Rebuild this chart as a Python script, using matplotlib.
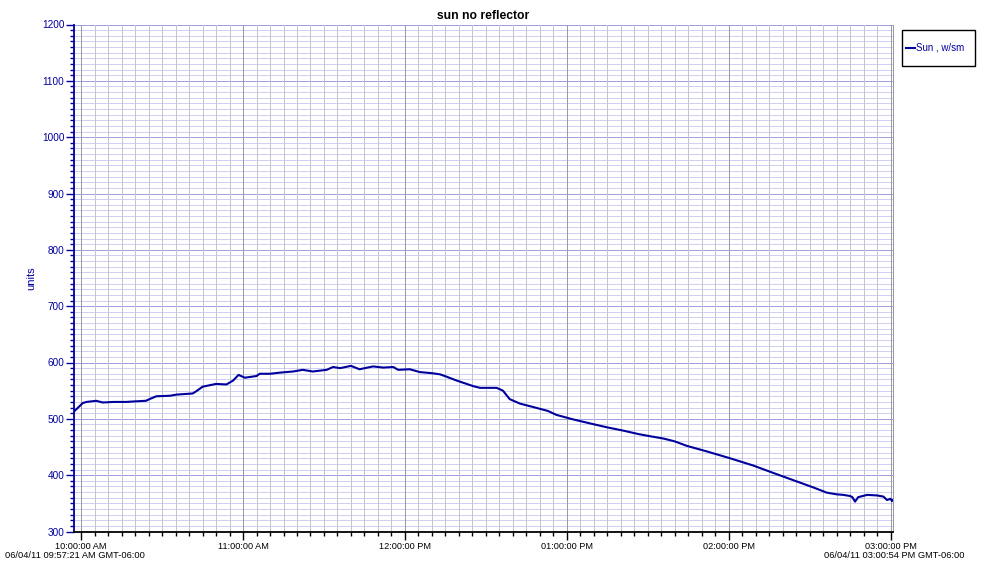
import matplotlib
matplotlib.use("Agg")
import matplotlib.pyplot as plt
import numpy as np
from matplotlib.ticker import MultipleLocator, FixedLocator
from matplotlib.patches import Rectangle

plt.rcParams['font.family'] = ['Liberation Sans', 'DejaVu Sans']

# readings (time of day, value)
times = ["09:57:21", "10:00:36", "10:02:00", "10:05:34", "10:08:00", "10:12:00",
         "10:16:42", "10:20:00", "10:24:00", "10:25:20", "10:27:50", "10:33:00",
         "10:35:20", "10:41:20", "10:42:40", "10:45:00", "10:50:00", "10:53:50",
         "10:56:20", "10:58:20", "11:00:40", "11:05:00", "11:06:10", "11:10:00",
         "11:13:40", "11:18:30", "11:22:10", "11:25:50", "11:31:00", "11:33:20",
         "11:36:00", "11:40:00", "11:43:10", "11:48:10", "11:52:00", "11:55:40",
         "11:57:30", "12:01:50", "12:05:30", "12:10:00", "12:13:00", "12:15:20",
         "12:19:10", "12:25:20", "12:27:50", "12:34:00", "12:36:20", "12:38:50",
         "12:42:40", "12:47:30", "12:53:00", "12:56:10", "13:02:20", "13:08:30",
         "13:14:50", "13:21:00", "13:26:30", "13:31:00", "13:35:50", "13:40:00",
         "13:44:30", "13:52:00", "14:00:30", "14:09:10", "14:16:30", "14:24:00",
         "14:31:30", "14:36:20", "14:40:00", "14:42:30", "14:45:00", "14:45:50",
         "14:46:50", "14:48:00", "14:51:20", "14:55:00", "14:57:20", "14:58:40",
         "15:00:00", "15:00:30", "15:00:54"]
sun = [513, 528, 530, 532, 529, 530,
       530, 531, 532, 535, 540, 541,
       543, 545, 549, 557, 562, 561,
       568, 578, 573, 576, 580, 580,
       582, 584, 587, 584, 587, 592,
       590, 594, 588, 593, 591, 592,
       587, 588, 583, 581, 579, 575,
       568, 558, 555, 555, 550, 535,
       527, 521, 514, 507, 499, 492,
       485, 479, 473, 469, 465, 460,
       452, 442, 430, 417, 404, 391,
       378, 369, 366, 365, 363, 361,
       353, 361, 365, 364, 362, 356,
       358, 354, 356]

hour_ticks = [10, 11, 12, 13, 14, 15]
hour_labels = ["10:00:00 AM", "11:00:00 AM", "12:00:00 PM",
               "01:00:00 PM", "02:00:00 PM", "03:00:00 PM"]
start_label = "06/04/11 09:57:21 AM GMT-06:00"
end_label = "06/04/11 03:00:54 PM GMT-06:00"


def to_hours(s):
    h, m, sec = [int(p) for p in s.split(":")]
    return h + m / 60 + sec / 3600


x = np.array([to_hours(t) for t in times])
y = np.array(sun)

fig = plt.figure(figsize=(9.85, 5.67), dpi=100)
ax = fig.add_axes([74 / 985, 1 - 531.5 / 567, (893 - 74) / 985, (531.5 - 24.5) / 567])

navy = "#00009c"
ax.plot(x, y, color=navy, lw=1.5, label="Sun , w/sm", zorder=5)

ax.set_xlim(x[0], x[-1])
ax.set_ylim(300, 1200)

# grid lines, 1 px wide
for v in range(300, 1201, 10):
    major = v % 100 == 0
    ax.axhline(v, color="#a0a0e0" if major else "#d0d0f2", lw=0.72,
               antialiased=False, zorder=1)
xm = np.arange(10, 15.01, 5 / 60)
for v in xm:
    major = abs(v - round(v)) < 1e-6
    ax.axvline(v, color="#9a9aa4" if major else "#c4c4cc", lw=0.72,
               antialiased=False, zorder=2)

ax.yaxis.set_major_locator(MultipleLocator(100))
ax.yaxis.set_minor_locator(MultipleLocator(10))
ax.xaxis.set_major_locator(FixedLocator(hour_ticks))
ax.xaxis.set_minor_locator(FixedLocator(xm))
ax.set_xticklabels(hour_labels)

ax.tick_params(axis="y", which="major", length=6, width=1.0, color=navy,
               labelcolor=navy, labelsize=7.2, pad=1)
ax.tick_params(axis="y", which="minor", length=3, width=1.0, color=navy)
ax.tick_params(axis="x", which="major", length=6, width=1.0, color="black",
               labelsize=6.6, pad=1.5)
ax.tick_params(axis="x", which="minor", length=3, width=1.0, color="black")

ax.spines["left"].set_color(navy)
ax.spines["left"].set_linewidth(1.3)
ax.spines["bottom"].set_color("black")
ax.spines["bottom"].set_linewidth(1.3)
ax.spines["top"].set_visible(False)
ax.spines["right"].set_color("#9a9aa4")
ax.spines["right"].set_linewidth(0.72)

ax.set_title("sun no reflector", fontsize=8.7, fontweight="bold", pad=4)
ax.set_ylabel("units", color=navy, fontsize=8)
ax.yaxis.set_label_coords((36 - 74) / 819, 0.5)

fig.text(5 / 985, 1 - 555 / 567, start_label, fontsize=6.7, ha="left", va="center")
fig.text(965 / 985, 1 - 555 / 567, end_label, fontsize=6.7, ha="right", va="center")

# legend box
fig.patches.append(Rectangle((902 / 985, 1 - 66 / 567), 73 / 985, 36 / 567,
                             transform=fig.transFigure, fill=False,
                             edgecolor="black", lw=1.0))
leg = fig.legend(loc="center left", bbox_to_anchor=(906 / 985, 1 - 48 / 567),
                 fontsize=7, frameon=False, handlelength=0.9,
                 handletextpad=0.15, borderpad=0, borderaxespad=0)
for t in leg.get_texts():
    t.set_color(navy)

fig.savefig("out.png", dpi=100)
